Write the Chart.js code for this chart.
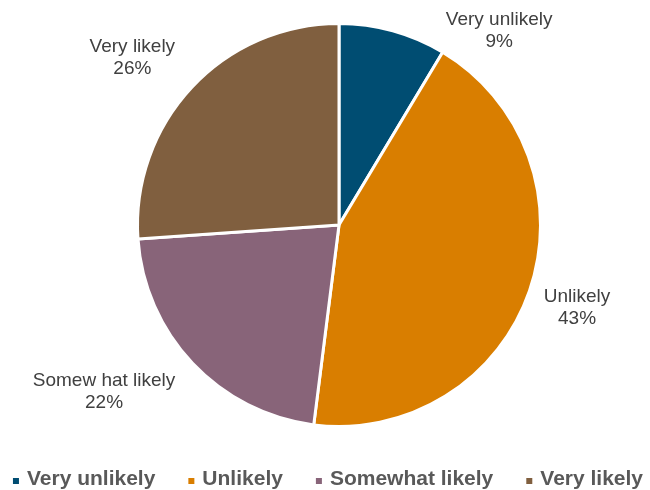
<!DOCTYPE html>
<html>
<head>
<meta charset="utf-8">
<script src="https://cdn.jsdelivr.net/npm/chart.js@4.4.0/dist/chart.umd.min.js"></script>
<style>
  body { margin: 0; background: #fff; }
  #wrap { width: 650px; height: 490px; }
</style>
</head>
<body>
<div id="wrap"><canvas id="pieChart"></canvas></div>
<script>
// data
const categories = ["Very unlikely", "Unlikely", "Somewhat likely", "Very likely"];
const labelNames = ["Very unlikely", "Unlikely", "Somew hat likely", "Very likely"];
const shares = [8.6, 43.4, 21.9, 26.1];
const colors = ["#004d72", "#d97e00", "#886479", "#805f3f"];

// nudges for the data labels (degrees, radius factor)
const labelShift = [24, 0, 8, -4];
const labelDist = [1.25, 1.25, 1.43, 1.32];

const pieLabels = {
  id: "pieLabels",
  afterDraw(chart) {
    const ctx = chart.ctx;
    const meta = chart.getDatasetMeta(0);
    const total = shares.reduce((a, b) => a + b, 0);
    ctx.save();
    ctx.font = "19px 'Liberation Sans', Arial, sans-serif";
    ctx.fillStyle = "#404040";
    ctx.textAlign = "center";
    ctx.textBaseline = "middle";
    meta.data.forEach((arc, i) => {
      const p = arc.getProps(["x", "y", "startAngle", "endAngle", "outerRadius"], true);
      const mid = (p.startAngle + p.endAngle) / 2 + labelShift[i] * Math.PI / 180;
      const r = p.outerRadius * labelDist[i];
      const x = p.x + Math.cos(mid) * r;
      const y = p.y + Math.sin(mid) * r;
      const pct = Math.round(shares[i] / total * 100) + "%";
      ctx.fillText(labelNames[i], x, y - 11);
      ctx.fillText(pct, x, y + 11);
    });

    // legend along the bottom
    ctx.font = "bold 21px 'Liberation Sans', Arial, sans-serif";
    ctx.textAlign = "left";
    const box = 6, gapIn = 8, gapOut = 33;
    const widths = categories.map((c) => box + gapIn + ctx.measureText(c).width);
    const full = widths.reduce((a, b) => a + b, 0) + gapOut * (categories.length - 1);
    let x = (chart.width - full) / 2 + 3;
    const y = 479;
    categories.forEach((c, i) => {
      ctx.fillStyle = colors[i];
      ctx.fillRect(x, y - 1, box, box);
      ctx.fillStyle = "#595959";
      ctx.fillText(c, x + box + gapIn, y);
      x += widths[i] + gapOut;
    });
    ctx.restore();
  }
};

new Chart(document.getElementById("pieChart"), {
  type: "pie",
  data: {
    labels: categories,
    datasets: [{
      data: shares,
      backgroundColor: colors,
      borderColor: "#ffffff",
      borderWidth: 3
    }]
  },
  options: {
    responsive: true,
    maintainAspectRatio: false,
    animation: false,
    layout: { padding: { top: 22, bottom: 62, left: 28, right: 0 } },
    plugins: {
      legend: { display: false },
      tooltip: { enabled: false }
    }
  },
  plugins: [pieLabels]
});
</script>
</body>
</html>
